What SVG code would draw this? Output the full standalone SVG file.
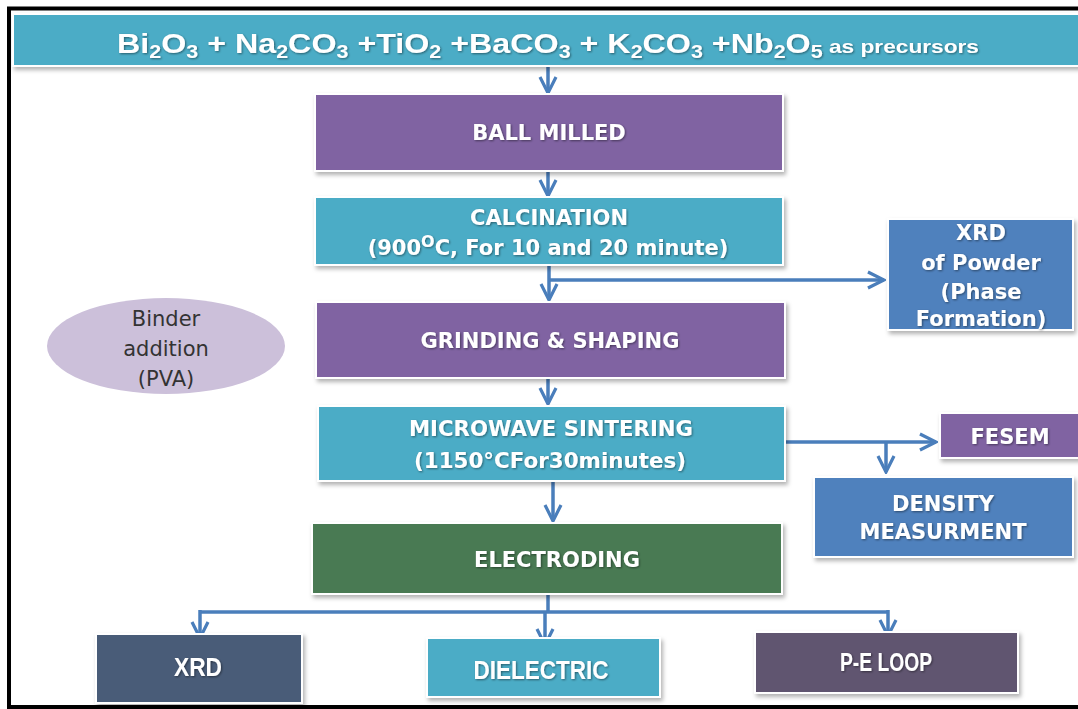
<svg xmlns="http://www.w3.org/2000/svg" width="1078" height="709" viewBox="0 0 1078 709">
<style>
.box{stroke:#fff;stroke-width:2;filter:url(#sh)}
.t{font-family:"DejaVu Sans","Open Sans",sans-serif;font-weight:bold;font-size:21px;fill:#fff;text-anchor:middle;filter:url(#ts)}
.c{font-family:"Liberation Sans Narrow","Liberation Sans",sans-serif;font-weight:bold;fill:#fff;text-anchor:middle;filter:url(#ts)}
.b{font-family:"DejaVu Sans","Open Sans",sans-serif;font-size:21px;fill:#333;text-anchor:middle}
.con{fill:none;stroke:#4A7EBB;stroke-width:3.5}
</style>
<defs>
<filter id="sh" x="-10%" y="-20%" width="120%" height="150%"><feDropShadow dx="2" dy="3" stdDeviation="2" flood-color="#000" flood-opacity="0.3"/></filter>
<filter id="ts" x="-10%" y="-30%" width="120%" height="160%"><feDropShadow dx="1" dy="1" stdDeviation="0.8" flood-color="#000" flood-opacity="0.45"/></filter>
<marker id="ah" viewBox="0 0 12 12" refX="11" refY="6" markerWidth="5.5" markerHeight="5.5" orient="auto" markerUnits="strokeWidth"><path d="M1,1 L11,6 L1,11" fill="none" stroke="#4A7EBB" stroke-width="2"/></marker>
</defs>
<rect width="1078" height="709" fill="#fff"/>
<path d="M1078,8.5 H9 V707 H1078" fill="none" stroke="#000" stroke-width="4"/>

<g id="connectors">
<path class="con" d="M548,66 V93" marker-end="url(#ah)"/>
<path class="con" d="M548,171 V196" marker-end="url(#ah)"/>
<path class="con" d="M549,265 V300" marker-end="url(#ah)"/>
<path class="con" d="M549,280 H884" marker-end="url(#ah)"/>
<path class="con" d="M548,378 V404" marker-end="url(#ah)"/>
<path class="con" d="M553,481 V521" marker-end="url(#ah)"/>
<path class="con" d="M785,442 H936" marker-end="url(#ah)"/>
<path class="con" d="M886,442 V472" marker-end="url(#ah)"/>
<path class="con" d="M548,594 V612"/>
<path class="con" d="M200,612 H888"/>
<path class="con" d="M200,610 V638" marker-end="url(#ah)"/>
<path class="con" d="M545,612 V645" marker-end="url(#ah)"/>
<path class="con" d="M888,610 V636" marker-end="url(#ah)"/>
</g>

<g id="precursors">
<rect class="box" x="13" y="14" width="1070" height="52" fill="#4BACC6"/>
<text class="c" x="548" y="53" font-size="27" textLength="862" lengthAdjust="spacingAndGlyphs">Bi<tspan font-size="18" dy="5">2</tspan><tspan dy="-5">O</tspan><tspan font-size="18" dy="5">3</tspan><tspan dy="-5"> + Na</tspan><tspan font-size="18" dy="5">2</tspan><tspan dy="-5">CO</tspan><tspan font-size="18" dy="5">3</tspan><tspan dy="-5"> +TiO</tspan><tspan font-size="18" dy="5">2</tspan><tspan dy="-5"> +BaCO</tspan><tspan font-size="18" dy="5">3</tspan><tspan dy="-5"> + K</tspan><tspan font-size="18" dy="5">2</tspan><tspan dy="-5">CO</tspan><tspan font-size="18" dy="5">3</tspan><tspan dy="-5"> +Nb</tspan><tspan font-size="18" dy="5">2</tspan><tspan dy="-5">O</tspan><tspan font-size="18" dy="5">5</tspan><tspan dy="-5" font-size="19"> as precursors</tspan></text>
</g>

<g id="ball-milled">
<rect class="box" x="315" y="94" width="468" height="77" fill="#8064A2"/>
<text class="t" x="549" y="140">BALL MILLED</text>
</g>

<g id="calcination">
<rect class="box" x="315" y="197" width="468" height="68" fill="#4BACC6"/>
<text class="t" x="549" y="225">CALCINATION</text>
<text class="t" x="548" y="255">(900<tspan font-size="16" dy="-8">O</tspan><tspan dy="8">C, For 10 and 20 minute)</tspan></text>
</g>

<g id="xrd-powder">
<rect class="box" x="888" y="219" width="185" height="111" fill="#4F81BD"/>
<text class="t" x="981" y="240">XRD</text>
<text class="t" x="981" y="270">of Powder</text>
<text class="t" x="981" y="299">(Phase</text>
<text class="t" x="981" y="326">Formation)</text>
</g>

<g id="binder">
<ellipse cx="166" cy="346" rx="119" ry="48" fill="#CCC0DA"/>
<text class="b" x="166" y="326">Binder</text>
<text class="b" x="166" y="356">addition</text>
<text class="b" x="166" y="386">(PVA)</text>
</g>

<g id="grinding">
<rect class="box" x="316" y="302" width="469" height="76" fill="#8064A2"/>
<text class="t" x="550" y="348">GRINDING &amp; SHAPING</text>
</g>

<g id="sintering">
<rect class="box" x="318" y="406" width="467" height="75" fill="#4BACC6"/>
<text class="t" x="551" y="436" textLength="284" lengthAdjust="spacingAndGlyphs">MICROWAVE SINTERING</text>
<text class="t" x="550" y="468" textLength="272" lengthAdjust="spacingAndGlyphs">(1150°CFor30minutes)</text>
</g>

<g id="fesem">
<rect class="box" x="940" y="413" width="140" height="45" fill="#8064A2"/>
<text class="t" x="1010" y="444">FESEM</text>
</g>

<g id="density">
<rect class="box" x="814" y="477" width="259" height="80" fill="#4F81BD"/>
<text class="t" x="943" y="511">DENSITY</text>
<text class="t" x="943" y="539">MEASURMENT</text>
</g>

<g id="electroding">
<rect class="box" x="312" y="523" width="470" height="71" fill="#4A7A52"/>
<text class="t" x="557" y="567">ELECTRODING</text>
</g>

<g id="xrd">
<rect class="box" x="96" y="634" width="206" height="69" fill="#4A5B78"/>
<text class="c" x="198" y="676" font-size="25" textLength="48" lengthAdjust="spacingAndGlyphs">XRD</text>
</g>

<g id="dielectric">
<rect class="box" x="427" y="638" width="233" height="59" fill="#4BACC6"/>
<text class="c" x="541" y="679" font-size="25" textLength="135" lengthAdjust="spacingAndGlyphs">DIELECTRIC</text>
</g>

<g id="pe-loop">
<rect class="box" x="755" y="632" width="263" height="61" fill="#60546F"/>
<text class="c" x="886" y="671" font-size="25" textLength="92" lengthAdjust="spacingAndGlyphs">P-E LOOP</text>
</g>
</svg>
